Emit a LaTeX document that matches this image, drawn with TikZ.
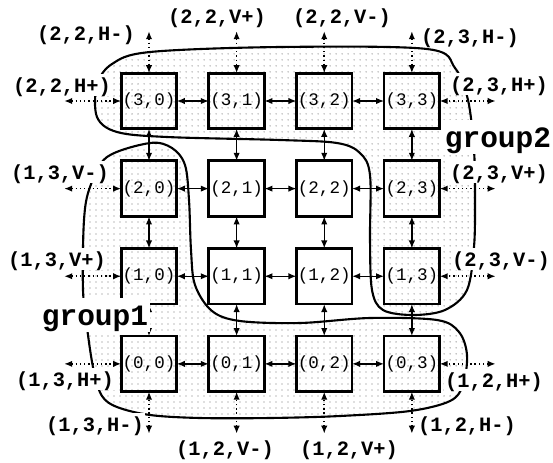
\documentclass[tikz,border=0pt]{standalone}
\usepackage{fontspec}
\setmonofont{Liberation Mono}
\usetikzlibrary{arrows.meta,positioning,patterns.meta}

\begin{document}
\begin{tikzpicture}[
    x=0.025cm, y=-0.025cm,
    node distance=8mm,
    cell/.style={rectangle, draw=black, line width=1.9pt, minimum size=13.9mm,
                 inner sep=0pt, outer sep=0pt, font=\ttfamily\fontsize{12.5}{14}\selectfont},
    port/.style={fill=white, inner sep=0.5pt, text height=4.5mm, text depth=0.75mm,
                 font=\ttfamily\bfseries\fontsize{14.5}{16}\selectfont},
    grplabel/.style={port, inner sep=1pt, text height=6.5mm, text depth=1.5mm,
                 font=\ttfamily\bfseries\fontsize{21}{24}\selectfont},
    group/.style={draw=black, line width=1.5pt, pattern={Dots[distance=1.5mm, radius=0.45pt]},
                 pattern color=black!55},
    link/.style={<->, >={Latex[length=2mm, width=1.6mm]}, line width=1pt},
    ext/.style={link, dotted, line width=1.1pt}
]
\useasboundingbox (0,0) rectangle (553,462);

% the two groups
\draw[group] plot[smooth cycle, tension=0.55] coordinates {
    (97,85) (112,64) (150,52) (280,47) (427,49) (455,68) (468,100) (474,150)
    (475,200) (474,247) (467,290) (445,310) (413,315) (383,310) (372,290)
    (370,240) (370,175) (360,153) (337,143) (280,140) (167,137) (117,132) (97,117)};
\draw[group] plot[smooth cycle, tension=0.55] coordinates {
    (84,220) (90,187) (107,157) (150,143) (172,148) (185,165) (189,200) (191,250)
    (195,285) (212,311) (240,321) (300,323) (370,318) (437,320) (459,332)
    (467,355) (463,385) (450,401) (410,411) (340,416) (270,418) (200,418)
    (150,415) (117,407) (102,396) (94,372) (88,335) (83,290)};

% routers
\node[cell] (b30) at (149,101) {(3,0)};
\node[cell, right=of b30] (b31) {(3,1)};
\node[cell, right=of b31] (b32) {(3,2)};
\node[cell, right=of b32] (b33) {(3,3)};
\node[cell, below=of b30] (b20) {(2,0)};
\node[cell, right=of b20] (b21) {(2,1)};
\node[cell, right=of b21] (b22) {(2,2)};
\node[cell, right=of b22] (b23) {(2,3)};
\node[cell, below=of b20] (b10) {(1,0)};
\node[cell, right=of b10] (b11) {(1,1)};
\node[cell, right=of b11] (b12) {(1,2)};
\node[cell, right=of b12] (b13) {(1,3)};
\node[cell, below=of b10] (b00) {(0,0)};
\node[cell, right=of b00] (b01) {(0,1)};
\node[cell, right=of b01] (b02) {(0,2)};
\node[cell, right=of b02] (b03) {(0,3)};

% mesh links
\foreach \r in {0,...,3}{
  \foreach \a/\b in {0/1,1/2,2/3}{
    \draw[link] (b\r\a) -- (b\r\b);
    \draw[link] (b\a\r) -- (b\b\r);
  }
}

% external ports
\foreach \c in {0,...,3}{
  \coordinate[above=10.5mm of b3\c] (t\c);
  \coordinate[below=10.5mm of b0\c] (d\c);
  \draw[ext] (t\c) -- (b3\c);
  \draw[ext] (d\c) -- (b0\c);
}
\foreach \r in {0,...,3}{
  \coordinate[left=14.25mm of b\r0] (w\r);
  \coordinate[right=14mm of b\r3] (e\r);
  \draw[ext] (w\r) -- (b\r0);
  \draw[ext] (e\r) -- (b\r3);
}

\node[port] (lt0) at (86,33) {(2,2,H-)};
\node[port] (lt1) at (217,16) {(2,2,V+)};
\node[port] (lt2) at (342,16) {(2,2,V-)};
\node[port] (lt3) at (470,36) {(2,3,H-)};
\node[port] (lw3) at (62,85) {(2,2,H+)};
\node[port] (lw2) at (60,172) {(1,3,V-)};
\node[port] (lw1) at (57,259) {(1,3,V+)};
\node[port] (lw0) at (65,379) {(1,3,H+)};
\node[port] (le3) at (499,84) {(2,3,H+)};
\node[port] (le2) at (499,172) {(2,3,V+)};
\node[port] (le1) at (501,259) {(2,3,V-)};
\node[port] (le0) at (494,380) {(1,2,H+)};
\node[port] (ld0) at (95,424) {(1,3,H-)};
\node[port] (ld1) at (225,448) {(1,2,V-)};
\node[port] (ld2) at (349,448) {(1,2,V+)};
\node[port] (ld3) at (467,424) {(1,2,H-)};

\node[grplabel] (g1) at (95,315) {group1};
\node[grplabel] (g2) at (498,137) {group2};
\end{tikzpicture}
\end{document}
